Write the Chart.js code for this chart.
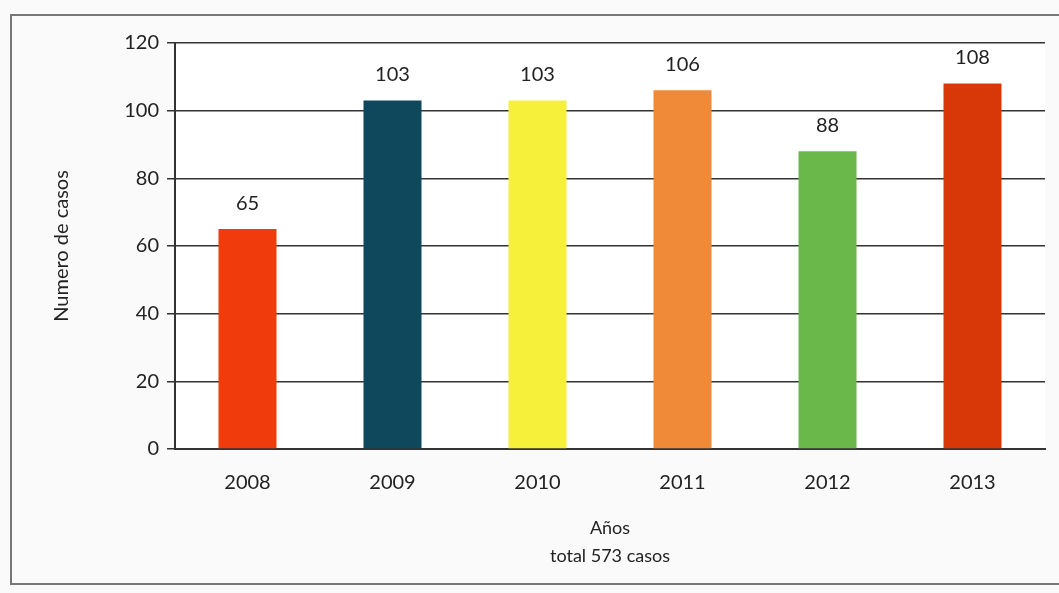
<!DOCTYPE html>
<html>
<head>
<meta charset="utf-8">
<script src="https://cdn.jsdelivr.net/npm/chart.js@4"></script>
<style>
  html, body { margin: 0; padding: 0; background: #fafafa; }
  #wrap { position: relative; width: 1059px; height: 593px; }
  #frame { position: absolute; left: 10px; top: 14px; width: 1060px; height: 571px; border: 2px solid #777; box-sizing: border-box; }
  canvas { position: absolute; left: 0; top: 0; }
</style>
</head>
<body>
<div id="wrap">
  <div id="frame"></div>
  <canvas id="casos" width="1059" height="593"></canvas>
</div>
<script>
/* casos por año */
const years = ["2008", "2009", "2010", "2011", "2012", "2013"];
const cases = [65, 103, 103, 106, 88, 108];
const barColors = ["#f03c0c", "#0f475c", "#f7f03a", "#f08a38", "#6bb84a", "#d83808"];
const yTicks = [0, 20, 40, 60, 80, 100, 120];

// etiquetas encima de cada barra
const valueLabels = {
  id: "valueLabels",
  afterDatasetsDraw(chart) {
    const ctx = chart.ctx;
    const meta = chart.getDatasetMeta(0);
    ctx.save();
    ctx.font = "20px Lato";
    ctx.fillStyle = "#222";
    ctx.textAlign = "center";
    ctx.textBaseline = "bottom";
    meta.data.forEach((bar, i) => {
      ctx.fillText(String(cases[i]), bar.x, bar.y - 16);
    });
    ctx.restore();
  },
};

// fondo blanco del area de trazado
const plotBg = {
  id: "plotBg",
  beforeDraw(chart) {
    const a = chart.chartArea;
    chart.ctx.save();
    chart.ctx.fillStyle = "#ffffff";
    chart.ctx.fillRect(a.left, a.top, a.right - a.left, a.bottom - a.top);
    chart.ctx.restore();
  },
};

new Chart(document.getElementById("casos"), {
  type: "bar",
  data: {
    labels: years,
    datasets: [
      {
        label: "Numero de casos",
        data: cases,
        backgroundColor: barColors,
        categoryPercentage: 1,
        barPercentage: 0.4,
      },
    ],
  },
  options: {
    responsive: false,
    animation: false,
    layout: { padding: { left: 10, right: 14, top: 43, bottom: 14 } },
    plugins: {
      legend: { display: false },
      tooltip: { enabled: false },
    },
    scales: {
      x: {
        grid: { display: false, drawTicks: false },
        border: { display: true, color: "#333", width: 2 },
        ticks: { color: "#222", font: { family: "Lato", size: 20 }, padding: 22 },
        title: {
          display: true,
          text: ["Años", "total 573 casos"],
          color: "#222",
          font: { family: "Lato", size: 18, lineHeight: 1.6 },
          padding: { top: 8, bottom: 8 },
        },
        afterFit(scale) { scale.height = 130; },
      },
      y: {
        min: 0,
        max: 120,
        afterBuildTicks(scale) { scale.ticks = yTicks.map((v) => ({ value: v })); },
        grid: { color: "#333", lineWidth: 1.5, tickLength: 8 },
        border: { display: true, color: "#333", width: 2 },
        ticks: { color: "#222", font: { family: "Lato", size: 20 }, padding: 8 },
        title: {
          display: true,
          text: "Numero de casos",
          color: "#222",
          font: { family: "Lato", size: 20 },
          padding: { top: 40, bottom: 30 },
        },
        afterFit(scale) { scale.width = 165; },
      },
    },
  },
  plugins: [plotBg, valueLabels],
});
</script>
</body>
</html>
